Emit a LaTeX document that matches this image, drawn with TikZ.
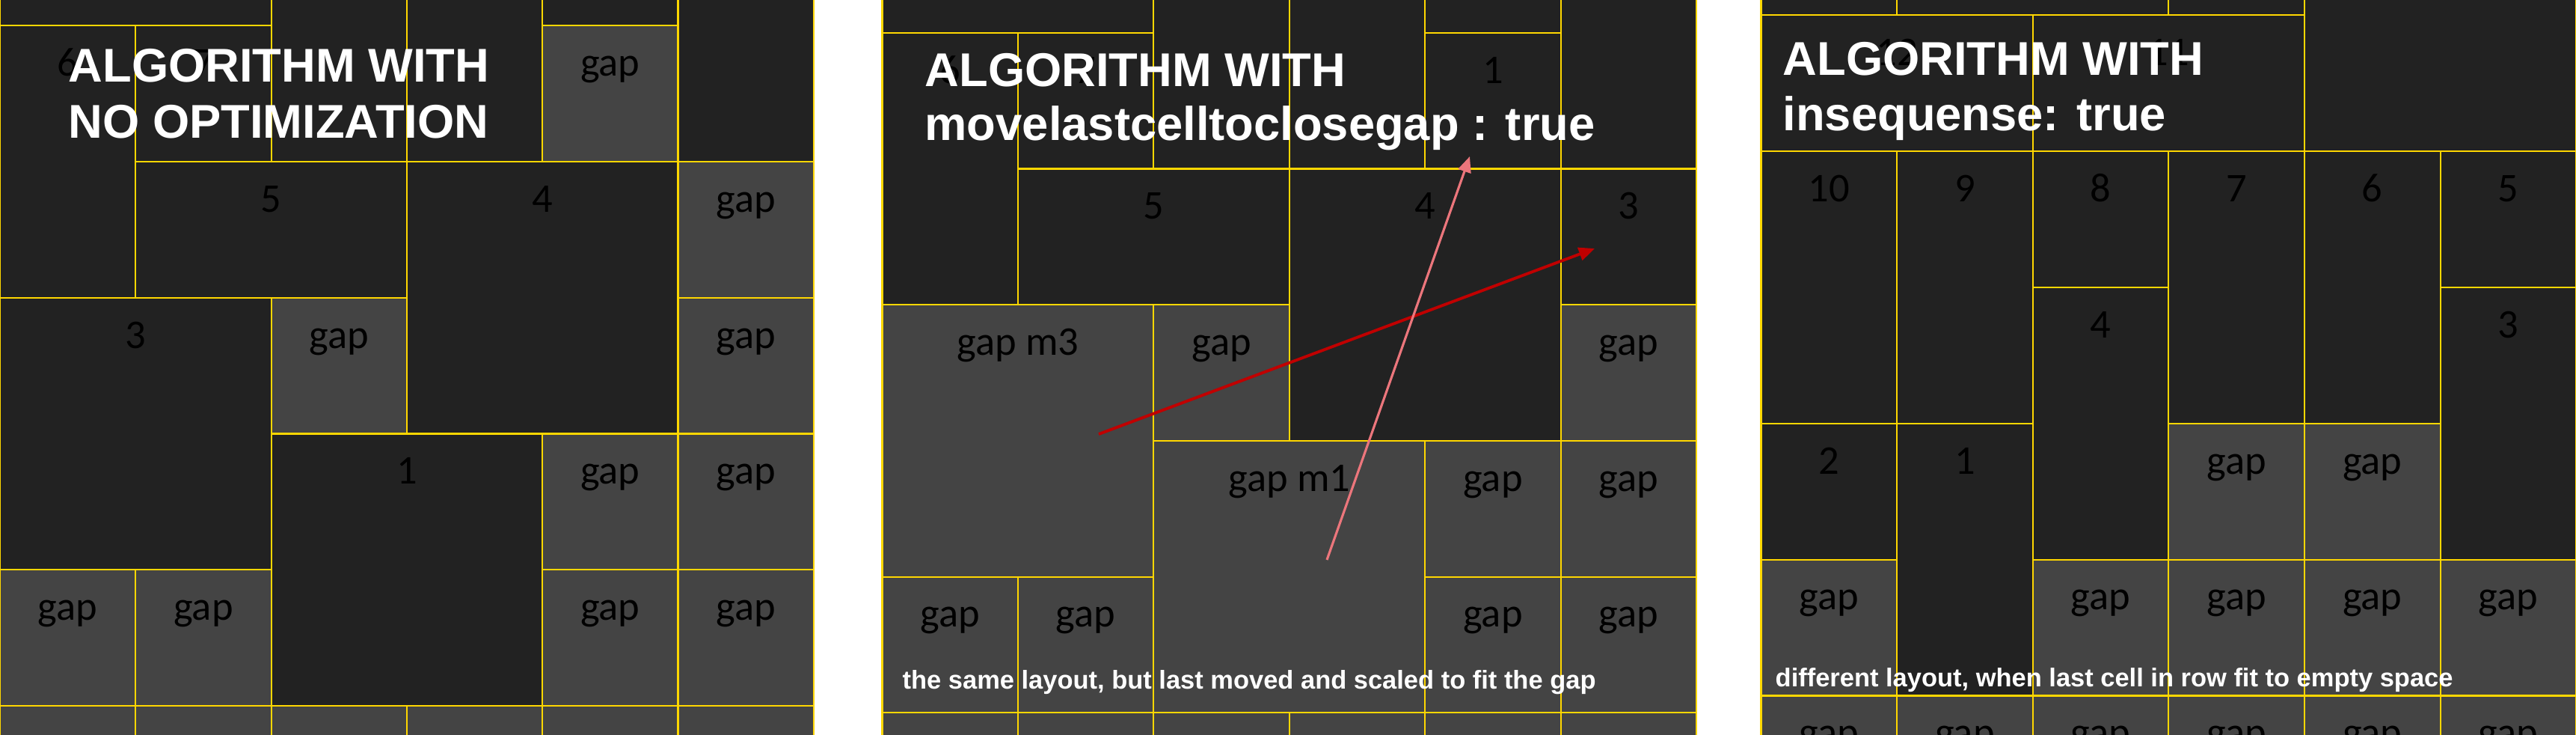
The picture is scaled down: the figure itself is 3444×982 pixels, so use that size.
\documentclass[tikz,border=0pt]{standalone}
\usepackage{fontspec}
\setmainfont{Carlito}
\newfontfamily\headfont{Liberation Sans}
\usetikzlibrary{arrows.meta}
\definecolor{celldark}{RGB}{34,34,34}
\definecolor{cellgap}{RGB}{68,68,68}
\definecolor{gridline}{RGB}{255,215,0}
\definecolor{moveone}{RGB}{236,118,124}
\definecolor{movethree}{RGB}{192,0,0}
\tikzset{
  cellbox/.style={fill=celldark,draw=gridline,line width=0.6pt},
  gapbox/.style={fill=cellgap,draw=gridline,line width=0.6pt},
  numlab/.style={anchor=base,inner sep=0pt,text=black,font=\fontsize{15.5}{18}\selectfont},
  headlab/.style={anchor=base west,inner sep=0pt,text=white,font=\headfont\bfseries\fontsize{18}{21}\selectfont},
  notelab/.style={anchor=base west,inner sep=0pt,text=white,font=\headfont\bfseries\fontsize{9.8}{12}\selectfont},
  movearrow/.style={-{Triangle[length=6pt,width=5pt]}}
}

\begin{document}
\begin{tikzpicture}[x=0.01cm,y=-0.01cm]
  \fill[white] (0,0) rectangle (3444,982);
  \useasboundingbox (0,0) rectangle (3444,982);

  % no optimization
  \begin{scope}
    \clip (0,0) rectangle (1089,982);
    \begin{scope}[shift={(0,34.4)},x=1.812cm,y=-1.816cm]
      \foreach \c/\r/\w/\h in {0/-1/2/1,2/-1/1/2,3/-1/1/2,4/-1/1/1,5/-1/1/2,0/0/1/2,1/0/1/1,1/1/2/1,3/1/2/2,0/2/2/2,2/3/2/2}
        \draw[cellbox] (\c,\r) rectangle ++(\w,\h);
      \foreach \c/\r/\w/\h in {4/0/1/1,5/1/1/1,2/2/1/1,5/2/1/1,4/3/1/1,5/3/1/1,0/4/1/1,1/4/1/1,4/4/1/1,5/4/1/1,0/5/1/1,1/5/1/1,2/5/1/1,3/5/1/1,4/5/1/1,5/5/1/1}
        \draw[gapbox] (\c,\r) rectangle ++(\w,\h);
      \foreach \x/\r/\t [count=\i] in {0.5/0/6,1.5/0/7,4.5/0/gap,2/1/5,4/1/4,5.5/1/gap,1/2/3,2.5/2/gap,5.5/2/gap,3/3/1,4.5/3/gap,5.5/3/gap,0.5/4/gap,1.5/4/gap,4.5/4/gap,5.5/4/gap}
        \node[numlab] (a\i) at (\x,\r+0.37) {\t};
    \end{scope}
  \end{scope}

  % movelastcelltoclosegap
  \begin{scope}
    \clip (1178,0) rectangle (2269,982);
    \begin{scope}[shift={(1179.5,43.8)},x=1.8133cm,y=-1.816cm]
      \foreach \c/\r/\w/\h in {0/-1/2/1,2/-1/1/2,3/-1/1/2,4/-1/1/1,5/-1/1/2,0/0/1/2,1/0/1/1,4/0/1/1,1/1/2/1,3/1/2/2,5/1/1/1}
        \draw[cellbox] (\c,\r) rectangle ++(\w,\h);
      \foreach \c/\r/\w/\h in {0/2/2/2,2/2/1/1,5/2/1/1,2/3/2/2,4/3/1/1,5/3/1/1,0/4/1/1,1/4/1/1,4/4/1/1,5/4/1/1,0/5/1/1,1/5/1/1,2/5/1/1,3/5/1/1,4/5/1/1,5/5/1/1}
        \draw[gapbox] (\c,\r) rectangle ++(\w,\h);
      \foreach \x/\r/\t [count=\i] in {0.5/0/6,1.5/0/7,4.5/0/1,2/1/5,4/1/4,5.5/1/3,1/2/gap m3,2.5/2/gap,5.5/2/gap,3/3/gap m1,4.5/3/gap,5.5/3/gap,0.5/4/gap,1.5/4/gap,4.5/4/gap,5.5/4/gap}
        \node[numlab] (b\i) at (\x,\r+0.37) {\t};
    \end{scope}
  \end{scope}

  % insequense
  \begin{scope}
    \clip (2353,0) rectangle (3444,982);
    \begin{scope}[shift={(2354.5,20)},x=1.815cm,y=-1.818cm]
      \foreach \c/\r/\w/\h in {0/-1/1/1,1/-1/2/1,3/-1/1/1,4/-1/2/2,0/0/2/1,2/0/2/1,0/1/1/2,1/1/1/2,2/1/1/1,3/1/1/2,4/1/1/2,5/1/1/1,2/2/1/2,5/2/1/2,0/3/1/1,1/3/1/2}
        \draw[cellbox] (\c,\r) rectangle ++(\w,\h);
      \foreach \c/\r/\w/\h in {3/3/1/1,4/3/1/1,0/4/1/1,2/4/1/1,3/4/1/1,4/4/1/1,5/4/1/1,0/5/1/1,1/5/1/1,2/5/1/1,3/5/1/1,4/5/1/1,5/5/1/1}
        \draw[gapbox] (\c,\r) rectangle ++(\w,\h);
      \foreach \x/\r/\t [count=\i] in {1/0/12,3/0/11,0.5/1/10,1.5/1/9,2.5/1/8,3.5/1/7,4.5/1/6,5.5/1/5,2.5/2/4,5.5/2/3,0.5/3/2,1.5/3/1,3.5/3/gap,4.5/3/gap,0.5/4/gap,2.5/4/gap,3.5/4/gap,4.5/4/gap,5.5/4/gap,0.5/5/gap,1.5/5/gap,2.5/5/gap,3.5/5/gap,4.5/5/gap,5.5/5/gap}
        \node[numlab] (c\i) at (\x,\r+0.37) {\t};
    \end{scope}
  \end{scope}

  % titles and notes
  \node[headlab] (h1a) at (91,110) {ALGORITHM WITH};
  \node[headlab] (h1b) at (91,185) {NO OPTIMIZATION};
  \node[headlab] (h2a) at (1236,116) {ALGORITHM WITH};
  \node[headlab] (h2b) at (1236,188) {movelastcelltoclosegap : true};
  \node[headlab] (h3a) at (2383,101) {ALGORITHM WITH};
  \node[headlab] (h3b) at (2383,175) {insequense: true};
  \node[notelab] (n2) at (1206,920) {the same layout, but last moved and scaled to fit the gap};
  \node[notelab] (n3) at (2373,917) {different layout, when last cell in row fit to empty space};

  % moves
  \coordinate (m3src) at (1469,580);
  \coordinate (m3dst) at (2132,332);
  \coordinate (m1src) at (1774,748);
  \coordinate (m1dst) at (1965,209);
  \draw[movearrow,movethree,line width=1.1pt] (m3src) -- (m3dst);
  \draw[movearrow,moveone,line width=0.9pt] (m1src) -- (m1dst);
\end{tikzpicture}
\end{document}
